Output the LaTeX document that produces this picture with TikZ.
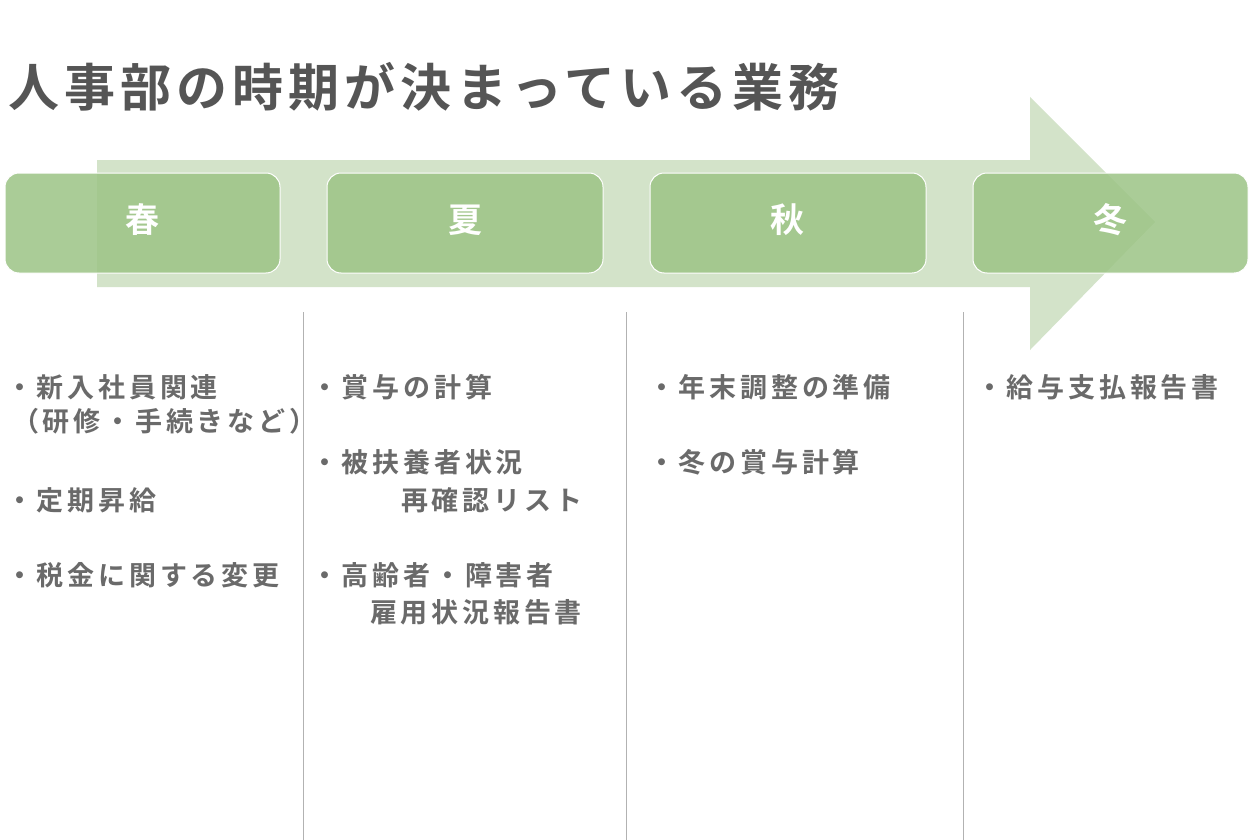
\documentclass[tikz,border=0pt]{standalone}
\usepackage{fontspec}
\setmainfont{Noto Sans CJK JP}
\newfontfamily\jpb{Noto Sans CJK JP Bold}
\newfontfamily\jpt[LetterSpace=10]{Noto Sans CJK JP Bold}
\newfontfamily\jpi[LetterSpace=14]{Noto Sans CJK JP Bold}
\definecolor{boxg}{HTML}{9CC485}
\definecolor{arrg}{HTML}{D3E3C9}
\definecolor{txtg}{HTML}{6A6A6A}
\definecolor{ttl}{HTML}{555555}
\begin{document}
\begin{tikzpicture}[x=1pt,y=-1pt,
  season/.style={draw=white,line width=1pt,rounded corners=14pt,fill=boxg,fill opacity=0.85},
  slab/.style={text=white,font=\jpb\fontsize{34}{40}\selectfont},
  item/.style={anchor=base west,text=txtg,font=\jpi\fontsize{27}{30}\selectfont,inner sep=0pt},
  sep/.style={draw=gray!60,line width=0.8pt}]
\useasboundingbox (0,0) rectangle (1260,840);
\fill[white] (0,0) rectangle (1260,840);
\node[anchor=base west,inner sep=0pt,text=ttl,font=\jpt\fontsize{51}{56}\selectfont] (title) at (8,107) {人事部の時期が決まっている業務};
\fill[arrg] (97,160) -- (1030,160) -- (1030,97) -- (1155,222) -- (1030,350) -- (1030,287) -- (97,287) -- cycle;
\path[season] (5,173) rectangle (280,273);
\path[season] (327,173) rectangle (603,273);
\path[season] (650,173) rectangle (926,273);
\path[season] (973,173) rectangle (1248,273);
\node[slab] (s1) at (142,220) {春};
\node[slab] (s2) at (465,220) {夏};
\node[slab] (s3) at (787,220) {秋};
\node[slab] (s4) at (1110,220) {冬};
\coordinate (l1a) at (303,312); \coordinate (l1b) at (303,840);
\coordinate (l2a) at (626,312); \coordinate (l2b) at (626,840);
\coordinate (l3a) at (963,312); \coordinate (l3b) at (963,840);
\draw[sep] (l1a) -- (l1b); \draw[sep] (l2a) -- (l2b); \draw[sep] (l3a) -- (l3b);
\node[item] (a1) at (6,397) {・新入社員関連};
\node[item] (a2) at (12,431) {（研修・手続きなど）};
\node[item] (a3) at (6,510) {・定期昇給};
\node[item] (a4) at (6,585) {・税金に関する変更};
\node[item] (b1) at (311,397) {・賞与の計算};
\node[item] (b2) at (311,472) {・被扶養者状況};
\node[item] (b3) at (401,510) {再確認リスト};
\node[item] (b4) at (311,585) {・高齢者・障害者};
\node[item] (b5) at (370,622) {雇用状況報告書};
\node[item] (c1) at (648,397) {・年末調整の準備};
\node[item] (c2) at (648,472) {・冬の賞与計算};
\node[item] (d1) at (976,397) {・給与支払報告書};
\end{tikzpicture}
\end{document}
